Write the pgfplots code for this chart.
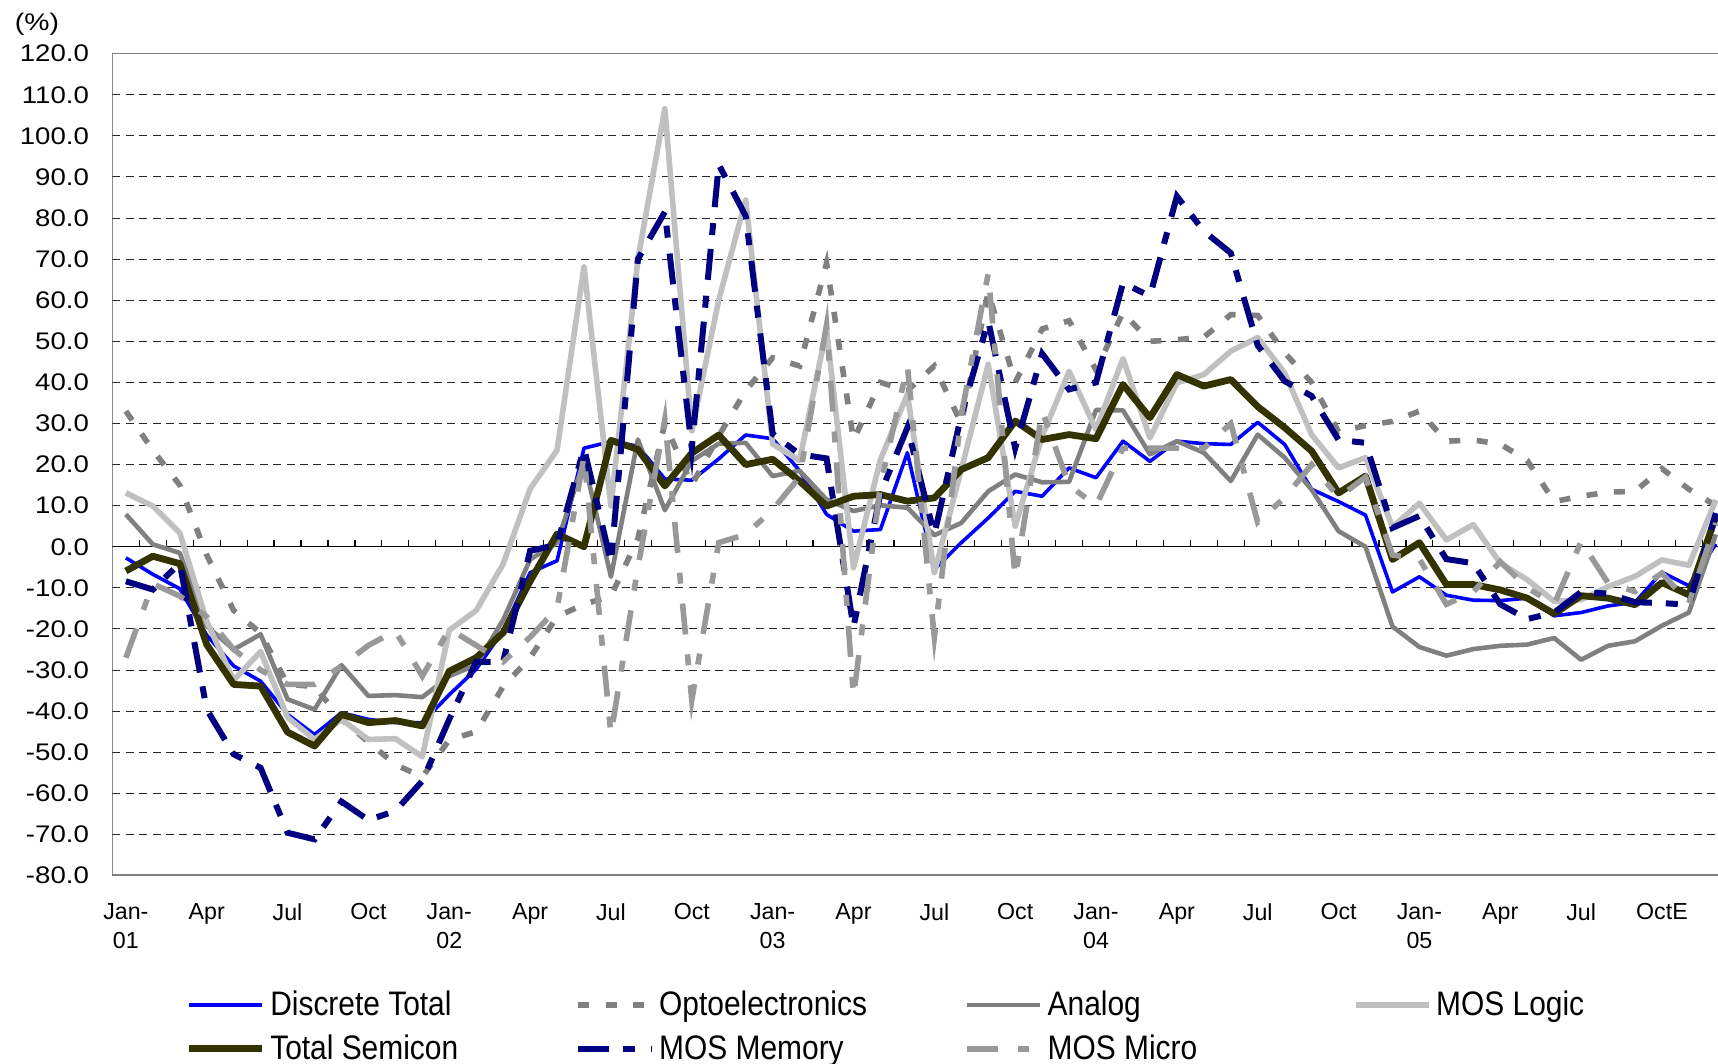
\documentclass[border=0pt]{standalone}
\usepackage{pgfplots}
\pgfplotsset{compat=1.18}
\usepackage{pgfplotstable}
\usepackage{graphicx}
\usepackage{fontspec}
\setmainfont{Liberation Sans}

\definecolor{discblue}{HTML}{0000FF}
\definecolor{optogray}{HTML}{808080}
\definecolor{analoggray}{HTML}{808080}
\definecolor{logicgray}{HTML}{C0C0C0}
\definecolor{totalolive}{HTML}{333300}
\definecolor{memnavy}{HTML}{000080}
\definecolor{microgray}{HTML}{999999}

\pgfplotstableread{
i disc opto analog logic total memory micro
0 -2.7 33 7.9 13.1 -5.9 -8.4 -27
1 -6.7 23.5 0.6 9.9 -2.3 -10.4 -9
2 -10.2 15 -1.5 3.4 -4.1 -4 -12
3 -21.5 -2 -19.3 -18.1 -23.8 -39.6 -17
4 -29 -15.5 -25 -32.5 -33.5 -50.5 -25
5 -32.7 -21 -21.3 -25.5 -33.9 -53.8 -30
6 -40.8 -33.5 -37.1 -41.5 -45.1 -69.6 -33.5
7 -45.7 -34 -39.6 -46.9 -48.5 -71.2 -33.5
8 -40.4 -42 -28.8 -42 -40.8 -62 -29
9 -42 -47.5 -36.3 -46.9 -42.8 -66.5 -24
10 -42.8 -53 -36.1 -46.7 -42.3 -64.3 -20.5
11 -42.8 -56 -36.6 -51.1 -43.6 -57 -31.5
12 -36 -47 -31.5 -20.3 -30.3 -42 -20
13 -29.8 -45 -28.7 -15.5 -27 -28 -24
14 -20.4 -34 -17.8 -4.2 -20.9 -28 -28
15 -6.3 -27 -3.1 14.1 -8.4 -1 -22
16 -3.4 -17 1.0 23.5 3.1 0.5 -15
17 24 -14 20.9 68.1 0 24 22
18 25.6 -12 -7.3 9.9 25.9 -3.7 -45.7
19 24.5 2 26.1 70 23.7 70 -5
20 16.5 30 8.9 106.6 14.8 81.5 31
21 16.2 15 20.9 28.2 22.8 24 -37.3
22 21.4 27 25.1 60.1 27.2 93 1
23 27.2 38 25.3 84.4 20 80.5 3
24 26.3 46 17.2 25 21.3 27.5 9
25 18.5 44 18.5 21 16 22.5 17
26 7.9 69 11.5 52.9 9.9 21.5 54
27 3.8 26 8.7 -5.1 12.3 -19.5 -36.5
28 4.2 40 10.1 21.2 12.7 13 15
29 22.9 38 9.5 37.1 11.1 29 44
30 -5.5 44 2.8 -6.3 11.9 3 -22
31 1 30 5.8 18.8 18.8 32 32
32 7 62 13.5 44.4 21.7 55 66.5
33 13.5 40 17.6 5 30.6 24 -7.5
34 12.3 53 15.7 26.9 26.1 47 33
35 19.2 55 15.8 42.7 27.3 38.3 15
36 16.8 43 33.3 28.5 26.3 40 10
37 25.7 57 33.2 45.8 39.5 64.2 24
38 20.8 50 22.5 26.5 31.4 61 24
39 25.7 50.4 25.7 39.9 41.9 85.3 24
40 25.1 51 22.9 41.9 39.1 76.8 24
41 24.9 56.5 16 47.6 40.7 71.5 30
42 30.3 56.3 27.3 50.9 34.1 49 6
43 24.9 47.2 21.7 42.3 29 40.3 12
44 14 40 13.9 27.3 23.3 36.7 20
45 11 28 3.8 19.2 13.1 26 12
46 7.7 29.5 0 21.7 17.2 25.3 17
47 -11 30.5 -19.4 4.8 -3.1 4.6 -2
48 -7.3 33 -24.4 10.6 1.0 7.5 -3
49 -11.8 25.7 -26.5 1.7 -9.2 -3 -14
50 -13 26 -24.9 5.4 -9.2 -4 -11
51 -13.1 25 -24.1 -4 -10.5 -14 -3.6
52 -12.5 21 -23.8 -8 -12.5 -17.6 -10
53 -16.8 11 -22.2 -13.3 -16.3 -16 -14
54 -16 12.3 -27.5 -12.9 -11.9 -11 1.3
55 -14.4 13.3 -24.1 -9.7 -12.5 -11.4 -8.8
56 -13.5 13.5 -23 -7.2 -14.1 -13.5 -10.9
57 -6.2 19 -19.2 -3.2 -8.7 -13.7 -6.4
58 -9.5 14 -16 -4.5 -11.7 -14.1 -13.7
59 0.7 10 3 11.4 7.4 8.2 5.8
}\datatable

\newcommand{\ys}[1]{\scalebox{1.15}[1]{#1}}
\newcommand{\legtext}[1]{\hspace*{2.25pt}\makebox[152.5pt][l]{\rule[-2pt]{0pt}{14.2pt}\smash{\scalebox{0.88}[1]{#1}}}}

\begin{document}
\begin{tikzpicture}
\useasboundingbox (-56.2pt,-94.25pt) rectangle (802.8pt,437.75pt);
\begin{axis}[
  at={(0pt,0pt)}, anchor=south west,
  scale only axis, width=802.8pt, height=410.9pt,
  xmin=-0.5, xmax=59.08, ymin=-80, ymax=120,
  axis line style={draw=none},
  tick style={draw=none},
  no markers,
  ytick={-80,-70,-60,-50,-40,-30,-20,-10,0,10,20,30,40,50,60,70,80,90,100,110,120},
  yticklabels={\ys{-80.0},\ys{-70.0},\ys{-60.0},\ys{-50.0},\ys{-40.0},\ys{-30.0},\ys{-20.0},\ys{-10.0},\ys{0.0},\ys{10.0},\ys{20.0},\ys{30.0},\ys{40.0},\ys{50.0},\ys{60.0},\ys{70.0},\ys{80.0},\ys{90.0},\ys{100.0},\ys{110.0},\ys{120.0}},
  yticklabel style={font=\fontsize{12}{14}\selectfont, inner sep=0pt, anchor=east, xshift=-11.55pt},
  xtick={0,3,6,9,12,15,18,21,24,27,30,33,36,39,42,45,48,51,54,57},
  xticklabels={{Jan-\\01},Apr,Jul,Oct,{Jan-\\02},Apr,Jul,Oct,{Jan-\\03},Apr,Jul,Oct,{Jan-\\04},Apr,Jul,Oct,{Jan-\\05},Apr,Jul,OctE},
  xticklabel style={font=\fontsize{11.6}{14.2}\selectfont, align=center, inner sep=0pt, anchor=north, yshift=-13.9pt},
  ymajorgrids,
  major grid style={black!85, line width=0.5pt, dash pattern=on 4pt off 2.7pt},
  legend columns=4,
  legend cell align=left,
  legend style={at={(0,0)}, anchor=north west, xshift=36.4pt, yshift=-57.6pt,
    draw=none, fill=none, inner sep=0pt, row sep=8.3pt, column sep=0pt,
    font=\fontsize{17}{20}\selectfont, nodes={inner sep=0pt}},
  legend image code/.code={\draw[#1] (0pt,0pt) -- (36.7pt,0pt);},
]
% zero line with category tick marks
\draw[black, line width=0.65pt] (rel axis cs:0,0.4) -- (rel axis cs:1,0.4);
\pgfplotsinvokeforeach{0.5,1.5,...,58.5}{\draw[black, line width=0.6pt] (axis cs:#1,0) -- ++(0pt,3.5pt);}

\addplot[discblue, line width=1.8pt, line join=round] table[x=i, y=disc] {\datatable};
\addlegendentry{\legtext{Discrete Total}}
\addplot[optogray, line width=2.8pt, dash pattern=on 5.5pt off 8.25pt] table[x=i, y=opto] {\datatable};
\addlegendentry{\legtext{Optoelectronics}}
\addplot[analoggray, line width=2.3pt, line join=round] table[x=i, y=analog] {\datatable};
\addlegendentry{\legtext{Analog}}
\addplot[logicgray, line width=2.8pt, line join=round] table[x=i, y=logic] {\datatable};
\addlegendentry{\legtext{MOS Logic}}
\addplot[totalolive, line width=3.4pt, line join=round] table[x=i, y=total] {\datatable};
\addlegendentry{\legtext{Total Semicon}}
\addplot[memnavy, line width=3pt, dash pattern=on 15.5pt off 7pt on 6pt off 8pt] table[x=i, y=memory] {\datatable};
\addlegendentry{\legtext{MOS Memory}}
\addplot[microgray, line width=2.8pt, dash pattern=on 15.5pt off 10pt on 5.5pt off 10pt] table[x=i, y=micro] {\datatable};
\addlegendentry{\legtext{MOS Micro}}

% plot area border (no right border: the picture is cut there)
\draw[black!70, line width=1pt] (rel axis cs:0,0) -- (rel axis cs:0,1);
\draw[optogray, line width=0.75pt] (rel axis cs:0,1) -- (rel axis cs:1,1);
\draw[optogray, line width=1pt] (rel axis cs:0,0) -- (rel axis cs:1,0);
\end{axis}
\node[font=\fontsize{12}{14}\selectfont, inner sep=0pt] at (-37.7pt,425.75pt) {\scalebox{1.18}[1]{(\%)}};
\end{tikzpicture}
\end{document}
